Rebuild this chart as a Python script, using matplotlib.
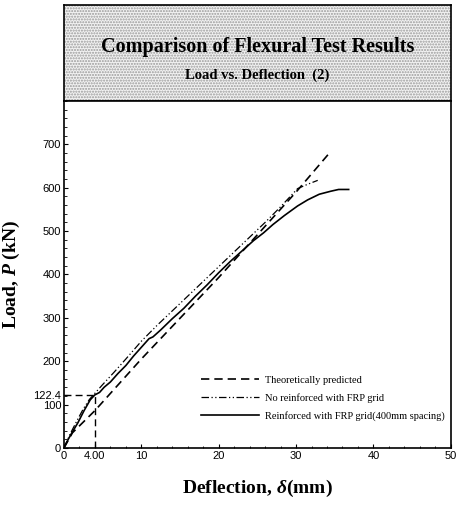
import numpy as np
import matplotlib
matplotlib.use("Agg")
import matplotlib.pyplot as plt

plt.rcParams["mathtext.fontset"] = "custom"
plt.rcParams["mathtext.it"] = "Liberation Serif:italic:bold"
plt.rcParams["mathtext.rm"] = "Liberation Serif:bold"
plt.rcParams["mathtext.bf"] = "Liberation Serif:bold"

# data (deflection mm, load kN)
theory_x = [0, 1.1, 4.0, 10.0, 20.0, 30.0, 34.5]
theory_y = [0, 35, 86, 205, 393, 590, 684]

noref_x = [0, 0.8, 1.6, 2.5, 3.3, 4.0, 5.0, 6.5, 8.0, 10.0, 12.0, 14.0, 16.0,
           18.0, 20.0, 22.0, 24.0, 26.0, 28.0, 30.2, 31.5, 32.8]
noref_y = [0, 32, 60, 90, 112, 126, 146, 175, 205, 246, 282, 316, 350,
           384, 418, 452, 486, 520, 556, 598, 608, 617]

reinf_x = [0, 0.5, 1.0, 1.8, 2.6, 3.4, 4.0, 4.6, 5.2, 6.0, 7.0, 8.0, 9.0, 10.0,
           11.0, 11.5, 12.5, 14.0, 15.5, 17.0, 18.5, 20.0, 21.5, 23.0, 24.5,
           25.8, 27.0, 28.5, 30.2, 31.5, 33.0, 34.5, 35.5, 36.8]
reinf_y = [0, 18, 34, 58, 86, 111, 122.4, 128, 140, 152, 172, 190, 212, 232,
           252, 256, 272, 298, 322, 350, 376, 404, 430, 454, 478,
           496, 515, 536, 558, 572, 585, 592, 596, 596]

ref_x, ref_y = 4.0, 122.4

fig = plt.figure(figsize=(4.6, 5.05), dpi=100)

# title box with speckled background
tax = fig.add_axes([0.139, 0.800, 0.841, 0.190])
tax.set_facecolor("#f2f2f2")
tax.add_patch(plt.Rectangle((0, 0), 1, 1, transform=tax.transAxes,
                            facecolor="none", edgecolor="#9a9a9a",
                            hatch="......", linewidth=0))
tax.set_xticks([])
tax.set_yticks([])
for s in tax.spines.values():
    s.set_linewidth(1.2)
tax.text(0.5, 0.56, "Comparison of Flexural Test Results", transform=tax.transAxes,
         ha="center", va="center", fontsize=14.5, fontweight="bold",
         family="Liberation Serif")
tax.text(0.5, 0.27, "Load vs. Deflection  (2)", transform=tax.transAxes,
         ha="center", va="center", fontsize=10.5, fontweight="bold",
         family="Liberation Serif")

ax = fig.add_axes([0.139, 0.113, 0.841, 0.687])
ax.plot(theory_x, theory_y, color="black", lw=1.2, ls=(0, (5, 3)),
        label="Theoretically predicted")
ax.plot(noref_x, noref_y, color="black", lw=0.9, ls=(0, (6, 2, 1, 2, 1, 2)),
        label="No reinforced with FRP grid")
ax.plot(reinf_x, reinf_y, color="black", lw=1.2, ls="-",
        label="Reinforced with FRP grid(400mm spacing)")

# guide lines to the reference point
ax.plot([0, ref_x], [ref_y, ref_y], color="black", lw=1.0, ls=(0, (5, 3)))
ax.plot([ref_x, ref_x], [0, ref_y], color="black", lw=1.0, ls=(0, (5, 3)))

ax.set_xlim(0, 50)
ax.set_ylim(0, 800)
ax.set_xticks([0, 4, 10, 20, 30, 40, 50])
ax.set_xticklabels(["0", "4.00", "10", "20", "30", "40", "50"])
ax.set_yticks([0, 100, 122.4, 200, 300, 400, 500, 600, 700])
ax.set_yticklabels(["0", "100", "122.4", "200", "300", "400", "500", "600", "700"])
ax.set_xticks(np.arange(0, 51, 2), minor=True)
ax.set_yticks(np.arange(0, 801, 20), minor=True)
ax.tick_params(which="both", direction="in", labelsize=8, pad=2,
               labelfontfamily="Liberation Sans")
ax.tick_params(which="major", length=3)
ax.tick_params(which="minor", length=1.8)
for s in ax.spines.values():
    s.set_linewidth(1.2)

ax.set_xlabel(r"Deflection, $\delta$(mm)", fontsize=14, fontweight="bold",
              family="Liberation Serif")
ax.set_ylabel(r"Load, $P$ (kN)", fontsize=14, fontweight="bold",
              family="Liberation Serif")
ax.xaxis.set_label_coords(0.5, -0.085)
ax.yaxis.set_label_coords(-0.108, 0.5)

leg = ax.legend(loc="lower right", bbox_to_anchor=(1.0, 0.06), frameon=False,
                prop=dict(family="Liberation Serif", size=7.5),
                handlelength=5.5, handletextpad=0.6, labelspacing=0.8,
                borderaxespad=0.2)

fig.savefig("out.png", dpi=100)
